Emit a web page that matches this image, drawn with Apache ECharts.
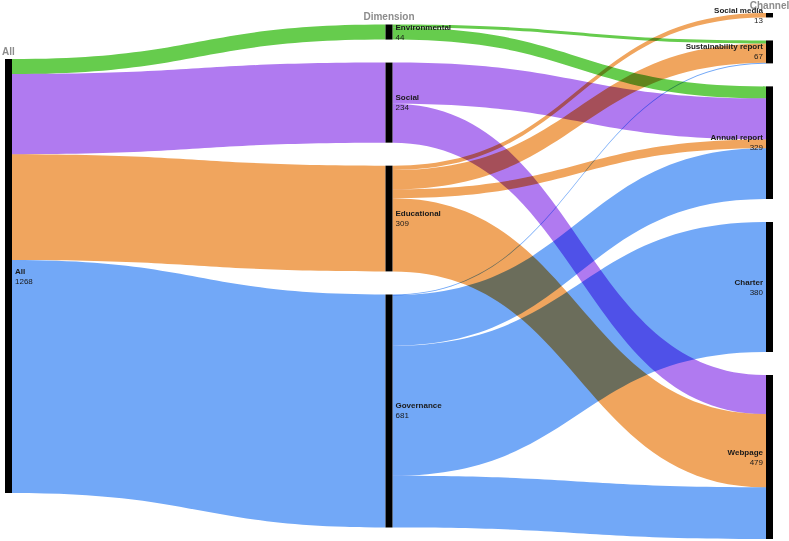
<!DOCTYPE html>
<html><head><meta charset="utf-8">
<script src="https://cdn.jsdelivr.net/npm/echarts@6/dist/echarts.min.js"></script>
<style>
html,body{margin:0;padding:0;background:#fff;}
#main{width:789px;height:541px;}
#main svg path{mix-blend-mode:multiply;}
</style></head><body><div id="main"></div>
<script>
// ---- data ----
const levelTitles = ['All', 'Dimension', 'Channel'];
const rootName = 'All';
const dimensions = ['Environmental', 'Social', 'Educational', 'Governance'];
const dimensionColors = ['#66cc4d', '#b07af0', '#f0a55e', '#72a8f7'];
const channels = ['Social media', 'Sustainability report', 'Annual report', 'Charter', 'Webpage'];
// flows from each dimension to each channel (same order as channels)
const environmentalFlows = [0, 9, 35, 0, 0];
const socialFlows = [0, 0, 120, 0, 114];
const educationalFlows = [13, 56, 26, 0, 214];
const governanceFlows = [0, 2, 148, 380, 151];

const flows = [environmentalFlows, socialFlows, educationalFlows, governanceFlows];
const sum = a => a.reduce((s, v) => s + v, 0);

const font = '"Liberation Sans", Arial, sans-serif';
const labelRich = {
  n: { fontFamily: font, fontSize: 8, fontWeight: 'bold', color: '#1a1a1a', lineHeight: 10 },
  v: { fontFamily: font, fontSize: 8, color: '#1a1a1a', lineHeight: 10 }
};

const nodes = [];
nodes.push({ name: rootName, depth: 0, label: { position: 'right' } });
dimensions.forEach(d => nodes.push({ name: d, depth: 1, label: { position: 'right' } }));
channels.forEach(c => nodes.push({ name: c, depth: 2, label: { position: 'left' } }));

const links = [];
dimensions.forEach((d, i) => {
  links.push({ source: rootName, target: d, value: sum(flows[i]), lineStyle: { color: dimensionColors[i] } });
});
dimensions.forEach((d, i) => {
  flows[i].forEach((v, j) => {
    if (v > 0) links.push({ source: d, target: channels[j], value: v, lineStyle: { color: dimensionColors[i] } });
  });
});

const W = 789, HT = 541;
const L = { left: 5, right: 16, top: 13, bottom: 2 };
const H = HT - L.top - L.bottom;

function seriesOption() {
  return {
    type: 'sankey',
    left: L.left, right: L.right, top: L.top, bottom: L.bottom,
    nodeWidth: 7,
    nodeGap: 23,
    layoutIterations: 0,
    draggable: false,
    emphasis: { disabled: true },
    itemStyle: { color: '#000', borderWidth: 0 },
    lineStyle: { opacity: 1, curveness: 0.5 },
    label: {
      distance: 3,
      formatter: '{n|{b}}\n{v|{c}}',
      rich: labelRich
    },
    data: nodes,
    links: links
  };
}

const chart = echarts.init(document.getElementById('main'), null, { renderer: 'svg' });
chart.setOption({ animation: false, backgroundColor: 'transparent', series: [seriesOption()] });

try {
  // centre each column vertically, keeping the library's node sizes and order
  const data = chart.getModel().getSeriesByIndex(0).getData();
  const ext = {};
  const lays = [];
  for (let i = 0; i < data.count(); i++) {
    const lay = data.getItemLayout(i);
    lays.push(lay);
    const d = nodes[i].depth;
    if (!ext[d]) ext[d] = { min: Infinity, max: -Infinity, x: lay.x + lay.dx / 2 };
    ext[d].min = Math.min(ext[d].min, lay.y);
    ext[d].max = Math.max(ext[d].max, lay.y + lay.dy);
  }
  const tops = {};
  nodes.forEach((n, i) => {
    const e = ext[n.depth];
    const off = (H - (e.max - e.min)) / 2 - e.min;
    n.localY = (lays[i].y + off) / H;
    const y = lays[i].y + off;
    if (tops[n.depth] == null || y < tops[n.depth]) tops[n.depth] = y;
  });
  const graphics = levelTitles.map((t, k) => ({
    type: 'text',
    x: L.left + ext[k].x,
    y: L.top + tops[k] - 3,
    style: {
      text: t, fill: '#8c8c8c', font: 'bold 10px ' + font,
      textAlign: 'center', textVerticalAlign: 'bottom'
    }
  }));
  chart.setOption({ series: [seriesOption()], graphic: graphics });
} catch (e) { console.log(e); }
</script></body></html>
